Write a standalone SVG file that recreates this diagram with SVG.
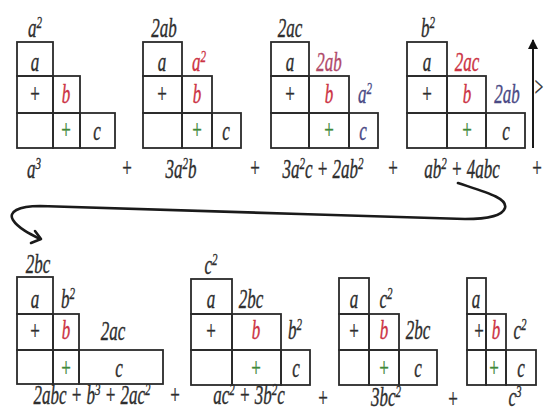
<svg xmlns="http://www.w3.org/2000/svg" width="544" height="416" viewBox="0 0 544 416">
<style>
.c{fill:none;stroke:#2a2a2a;stroke-width:1.8}
.t{font-family:"Liberation Serif",serif;font-style:italic;font-size:20px;fill:#2e2e2e;text-anchor:middle;stroke:#2e2e2e;stroke-width:0.3}
.n{font-style:normal}
.r{fill:#cc3344;stroke:#cc3344}
.g{fill:#3f8a3a;stroke:#3f8a3a}
.bl{fill:#4a4a85;stroke:#4a4a85}
.p{fill:#b04a6a;stroke:#b04a6a}
.s{font-size:13px}
.arr{fill:none;stroke:#1a1a1a;stroke-width:2.6;stroke-linecap:round;stroke-linejoin:round}
</style>
<defs>
<marker id="ah" viewBox="0 0 10 10" refX="9" refY="5" markerWidth="5" markerHeight="5" orient="auto"><path d="M0,0 L10,5 L0,10 Z" fill="#111"/></marker>
</defs>
<rect width="544" height="416" fill="#fff"/>

<g id="p1">
<rect class="c" x="17" y="42" width="36" height="34"/><rect class="c" x="17" y="76" width="36" height="37"/><rect class="c" x="53" y="76" width="27" height="37"/><rect class="c" x="17" y="113" width="36" height="35"/><rect class="c" x="53" y="113" width="27" height="35"/><rect class="c" x="80" y="113" width="35" height="35"/>
<text class="t" transform="translate(35,37) scale(.85,1.35)">a<tspan class="s" dy="-7">2</tspan></text>
<text class="t" transform="translate(35,71) scale(.85,1.35)">a</text>
<text class="t n" transform="translate(35,103) scale(.85,1.35)">+</text>
<text class="t r" transform="translate(66,103) scale(.85,1.35)">b</text>
<text class="t n g" transform="translate(66,139) scale(.85,1.35)">+</text>
<text class="t" transform="translate(97,140) scale(.85,1.35)">c</text>
<text class="t" transform="translate(34,178) scale(.85,1.35)">a<tspan class="s" dy="-7">3</tspan></text>
</g>
<text class="t n" transform="translate(127,177) scale(.85,1.35)">+</text>

<g id="p2">
<rect class="c" x="143" y="42" width="39" height="34"/><rect class="c" x="143" y="76" width="39" height="37"/><rect class="c" x="182" y="76" width="30" height="37"/><rect class="c" x="143" y="113" width="39" height="35"/><rect class="c" x="182" y="113" width="30" height="35"/><rect class="c" x="212" y="113" width="29" height="35"/>
<text class="t" transform="translate(164,37) scale(.85,1.35)">2ab</text>
<text class="t" transform="translate(162,71) scale(.85,1.35)">a</text>
<text class="t r" transform="translate(199,71) scale(.85,1.35)">a<tspan class="s" dy="-7">2</tspan></text>
<text class="t n" transform="translate(162,103) scale(.85,1.35)">+</text>
<text class="t r" transform="translate(197,103) scale(.85,1.35)">b</text>
<text class="t n g" transform="translate(197,139) scale(.85,1.35)">+</text>
<text class="t" transform="translate(226,140) scale(.85,1.35)">c</text>
<text class="t" transform="translate(181,178) scale(.85,1.35)">3a<tspan class="s" dy="-7">2</tspan><tspan dy="7">b</tspan></text>
</g>
<text class="t n" transform="translate(255,177) scale(.85,1.35)">+</text>

<g id="p3">
<rect class="c" x="271" y="42" width="38" height="34"/><rect class="c" x="271" y="76" width="38" height="37"/><rect class="c" x="309" y="76" width="40" height="37"/><rect class="c" x="271" y="113" width="38" height="35"/><rect class="c" x="309" y="113" width="40" height="35"/><rect class="c" x="349" y="113" width="29" height="35"/>
<text class="t" transform="translate(290,37) scale(.85,1.35)">2ac</text>
<text class="t" transform="translate(290,71) scale(.85,1.35)">a</text>
<text class="t p" transform="translate(329,71) scale(.85,1.35)">2ab</text>
<text class="t n" transform="translate(290,103) scale(.85,1.35)">+</text>
<text class="t r" transform="translate(329,103) scale(.85,1.35)">b</text>
<text class="t bl" transform="translate(365,103) scale(.85,1.35)">a<tspan class="s" dy="-7">2</tspan></text>
<text class="t n g" transform="translate(329,139) scale(.85,1.35)">+</text>
<text class="t bl" transform="translate(363,140) scale(.85,1.35)">c</text>
<text class="t" transform="translate(323,178) scale(.85,1.35)">3a<tspan class="s" dy="-7">2</tspan><tspan dy="7">c + 2ab</tspan><tspan class="s" dy="-7">2</tspan></text>
</g>
<text class="t n" transform="translate(393,177) scale(.85,1.35)">+</text>

<g id="p4">
<rect class="c" x="407" y="42" width="40" height="34"/><rect class="c" x="407" y="76" width="40" height="37"/><rect class="c" x="447" y="76" width="39" height="37"/><rect class="c" x="407" y="113" width="40" height="35"/><rect class="c" x="447" y="113" width="39" height="35"/><rect class="c" x="486" y="113" width="39" height="35"/>
<text class="t" transform="translate(428,37) scale(.85,1.35)">b<tspan class="s" dy="-7">2</tspan></text>
<text class="t" transform="translate(427,71) scale(.85,1.35)">a</text>
<text class="t r" transform="translate(467,71) scale(.85,1.35)">2ac</text>
<text class="t n" transform="translate(427,103) scale(.85,1.35)">+</text>
<text class="t r" transform="translate(467,103) scale(.85,1.35)">b</text>
<text class="t bl" transform="translate(507,103) scale(.85,1.35)">2ab</text>
<text class="t n g" transform="translate(467,139) scale(.85,1.35)">+</text>
<text class="t" transform="translate(506,140) scale(.85,1.35)">c</text>
<text class="t" transform="translate(462,178) scale(.85,1.35)">ab<tspan class="s" dy="-7">2</tspan><tspan dy="7"> + 4abc</tspan></text>
</g>
<text class="t n" transform="translate(537,177) scale(.85,1.35)">+</text>
<text class="t n" transform="translate(539,96) scale(.75,1.35)">&gt;</text>

<g id="p5">
<rect class="c" x="17" y="277" width="36" height="37"/><rect class="c" x="17" y="314" width="36" height="36"/><rect class="c" x="53" y="314" width="26" height="36"/><rect class="c" x="17" y="350" width="36" height="34"/><rect class="c" x="53" y="350" width="26" height="34"/><rect class="c" x="79" y="350" width="84" height="34"/>
<text class="t" transform="translate(38,273) scale(.85,1.35)">2bc</text>
<text class="t" transform="translate(35,308) scale(.85,1.35)">a</text>
<text class="t" transform="translate(68,308) scale(.85,1.35)">b<tspan class="s" dy="-7">2</tspan></text>
<text class="t n" transform="translate(35,340) scale(.85,1.35)">+</text>
<text class="t r" transform="translate(66,339) scale(.85,1.35)">b</text>
<text class="t" transform="translate(113,340) scale(.85,1.35)">2ac</text>
<text class="t n g" transform="translate(66,377) scale(.85,1.35)">+</text>
<text class="t" transform="translate(119,377) scale(.85,1.35)">c</text>
<text class="t" transform="translate(92,404) scale(.85,1.35)">2abc + b<tspan class="s" dy="-7">3</tspan><tspan dy="7"> + 2ac</tspan><tspan class="s" dy="-7">2</tspan></text>
</g>
<text class="t n" transform="translate(175,404) scale(.85,1.35)">+</text>

<g id="p6">
<rect class="c" x="191" y="279" width="41" height="35"/><rect class="c" x="191" y="314" width="41" height="36"/><rect class="c" x="232" y="314" width="49" height="36"/><rect class="c" x="191" y="350" width="41" height="35"/><rect class="c" x="232" y="350" width="49" height="35"/><rect class="c" x="281" y="350" width="29" height="35"/>
<text class="t" transform="translate(211,274) scale(.85,1.35)">c<tspan class="s" dy="-7">2</tspan></text>
<text class="t" transform="translate(211,308) scale(.85,1.35)">a</text>
<text class="t" transform="translate(251,308) scale(.85,1.35)">2bc</text>
<text class="t n" transform="translate(211,340) scale(.85,1.35)">+</text>
<text class="t r" transform="translate(256,339) scale(.85,1.35)">b</text>
<text class="t" transform="translate(295,339) scale(.85,1.35)">b<tspan class="s" dy="-7">2</tspan></text>
<text class="t n g" transform="translate(256,377) scale(.85,1.35)">+</text>
<text class="t" transform="translate(296,377) scale(.85,1.35)">c</text>
<text class="t" transform="translate(249,404) scale(.85,1.35)">ac<tspan class="s" dy="-7">2</tspan><tspan dy="7"> + 3b</tspan><tspan class="s" dy="-7">2</tspan><tspan dy="7">c</tspan></text>
</g>
<text class="t n" transform="translate(323,407) scale(.85,1.35)">+</text>

<g id="p7">
<rect class="c" x="339" y="278" width="30" height="36"/><rect class="c" x="339" y="314" width="30" height="36"/><rect class="c" x="369" y="314" width="30" height="36"/><rect class="c" x="339" y="350" width="30" height="35"/><rect class="c" x="369" y="350" width="30" height="35"/><rect class="c" x="399" y="350" width="38" height="35"/>
<text class="t" transform="translate(354,308) scale(.85,1.35)">a</text>
<text class="t" transform="translate(386,308) scale(.85,1.35)">c<tspan class="s" dy="-7">2</tspan></text>
<text class="t n" transform="translate(354,340) scale(.85,1.35)">+</text>
<text class="t r" transform="translate(384,339) scale(.85,1.35)">b</text>
<text class="t" transform="translate(418,339) scale(.85,1.35)">2bc</text>
<text class="t n g" transform="translate(384,377) scale(.85,1.35)">+</text>
<text class="t" transform="translate(418,377) scale(.85,1.35)">c</text>
<text class="t" transform="translate(386,406) scale(.85,1.35)">3bc<tspan class="s" dy="-7">2</tspan></text>
</g>
<text class="t n" transform="translate(453,408) scale(.85,1.35)">+</text>

<g id="p8">
<rect class="c" x="467" y="278" width="19" height="36"/><rect class="c" x="467" y="314" width="19" height="36"/><rect class="c" x="486" y="314" width="20" height="36"/><rect class="c" x="467" y="350" width="19" height="35"/><rect class="c" x="486" y="350" width="20" height="35"/><rect class="c" x="506" y="350" width="30" height="35"/>
<text class="t" transform="translate(476,308) scale(.85,1.35)">a</text>
<text class="t n" transform="translate(479,340) scale(.85,1.35)">+</text>
<text class="t r" transform="translate(496,339) scale(.85,1.35)">b</text>
<text class="t" transform="translate(520,339) scale(.85,1.35)">c<tspan class="s" dy="-7">2</tspan></text>
<text class="t n g" transform="translate(494,377) scale(.85,1.35)">+</text>
<text class="t" transform="translate(521,377) scale(.85,1.35)">c</text>
<text class="t" transform="translate(515,406) scale(.85,1.35)">c<tspan class="s" dy="-7">3</tspan></text>
</g>

<g id="connectors">
<line x1="533" y1="148" x2="533" y2="40" stroke="#1a1a1a" stroke-width="2" marker-end="url(#ah)"/>
<path class="arr" d="M458,183 C485,192 508,198 505,208 C502,217 485,219 465,219 L300,214 L40,206 C18,206 8,212 13,220 C18,228 30,234 40,239"/>
<path class="arr" d="M35,231 L41,239 L31,243"/>
</g>
</svg>
